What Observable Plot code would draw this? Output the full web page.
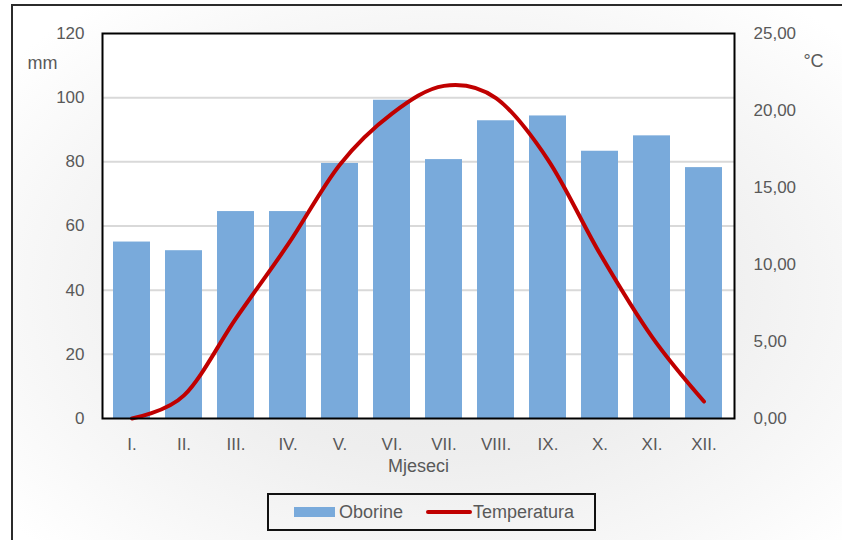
<!DOCTYPE html>
<html>
<head>
<meta charset="utf-8">
<script src="https://cdn.jsdelivr.net/npm/d3@7"></script>
<script src="https://cdn.jsdelivr.net/npm/@observablehq/plot@0.6"></script>
<style>
  html, body { margin: 0; padding: 0; }
  body {
    width: 842px; height: 540px; overflow: hidden; position: relative; background: #ffffff;
    font-family: "Liberation Sans", Arial, sans-serif; color: #595959;
  }
  #frame { position: absolute; left: 11px; top: 4px; width: 900px; height: 600px;
    border: 2px solid #2b2b2b; box-sizing: border-box;
    background: radial-gradient(ellipse 62% 62% at 48% 48%, #e8e8e8 0%, #eeeeee 45%, #f7f7f7 75%, #ffffff 100%); }
  #chart { position: absolute; left: 0; top: 0; }
  #legend { position: absolute; left: 267px; top: 493px; width: 329px; height: 38px;
    border: 2px solid #111; box-sizing: border-box; display: flex; align-items: center;
    font-size: 18px; color: #595959; }
  .sw-bar { width: 41px; height: 10px; margin-left: 25px; margin-right: 4px; }
  .sw-line { width: 46px; height: 4px; border-radius: 2px; margin-left: 23px; margin-right: 1px; }
</style>
</head>
<body>
<div id="frame"></div>
<div id="chart"></div>
<div id="legend"></div>
<script>
const months = ["I.", "II.", "III.", "IV.", "V.", "VI.", "VII.", "VIII.", "IX.", "X.", "XI.", "XII."];
const oborine = [55.0, 52.3, 64.5, 64.5, 79.5, 99.2, 80.7, 92.8, 94.3, 83.3, 88.1, 78.2];
const temperatura = [0.0, 1.5, 6.5, 11.3, 16.5, 19.8, 21.6, 20.8, 16.8, 10.7, 5.3, 1.1];
const mmTicks = [0, 20, 40, 60, 80, 100, 120];
const tempTicks = [0, 5, 10, 15, 20, 25];
const seriesNames = ["Oborine", "Temperatura"];
const colors = ["#79aadb", "#c00000"];

const k = 120 / 25; // temperature -> mm scale
const data = months.map((m, i) => ({month: m, mm: oborine[i], t: temperatura[i]}));

const chart = Plot.plot({
  width: 842, height: 480,
  marginLeft: 102, marginRight: 108, marginTop: 33, marginBottom: 62,
  style: {background: "transparent", fontFamily: "Liberation Sans, Arial, sans-serif",
          fontSize: "17px", color: "#595959", overflow: "visible"},
  x: {type: "band", domain: months, paddingInner: 0.28, paddingOuter: 0.14, label: null, axis: null},
  y: {domain: [0, 120], label: null, axis: null},
  marks: [
    Plot.frame({fill: "white", stroke: "none"}),
    Plot.gridY(mmTicks.filter(d => d > 0 && d < 120), {stroke: "#d9d9d9", strokeOpacity: 1, strokeWidth: 2}),
    Plot.barY(data, {x: "month", y: "mm", fill: colors[0]}),
    Plot.line(data, {x: "month", y: d => d.t * k, stroke: colors[1], strokeWidth: 4,
                     curve: "cardinal", strokeLinecap: "round"}),
    Plot.frame({stroke: "black", strokeWidth: 2}),
    Plot.axisY(mmTicks, {anchor: "left", tickSize: 0, tickPadding: 18, label: null}),
    Plot.axisY(tempTicks.map(t => t * k), {anchor: "right", tickSize: 0, tickPadding: 19, label: null,
               tickFormat: d => (d / k).toFixed(2).replace(".", ",")}),
    Plot.axisX({tickSize: 0, tickPadding: 19, label: null, fontSize: 17}),
    Plot.text(["Mjeseci"], {frameAnchor: "bottom", textAnchor: "middle", lineAnchor: "middle", dy: 48, fontSize: 18}),
    Plot.text(["mm"], {frameAnchor: "top-left", textAnchor: "middle", lineAnchor: "middle", dx: -60, dy: 30, fontSize: 18}),
    Plot.text(["°C"], {frameAnchor: "top-right", textAnchor: "middle", lineAnchor: "middle", dx: 79, dy: 28, fontSize: 18})
  ]
});
document.getElementById("chart").appendChild(chart);

const legend = document.getElementById("legend");
legend.innerHTML =
  `<div class="sw-bar" style="background:${colors[0]}"></div><span>${seriesNames[0]}</span>` +
  `<div class="sw-line" style="background:${colors[1]}"></div><span>${seriesNames[1]}</span>`;
</script>
</body>
</html>
